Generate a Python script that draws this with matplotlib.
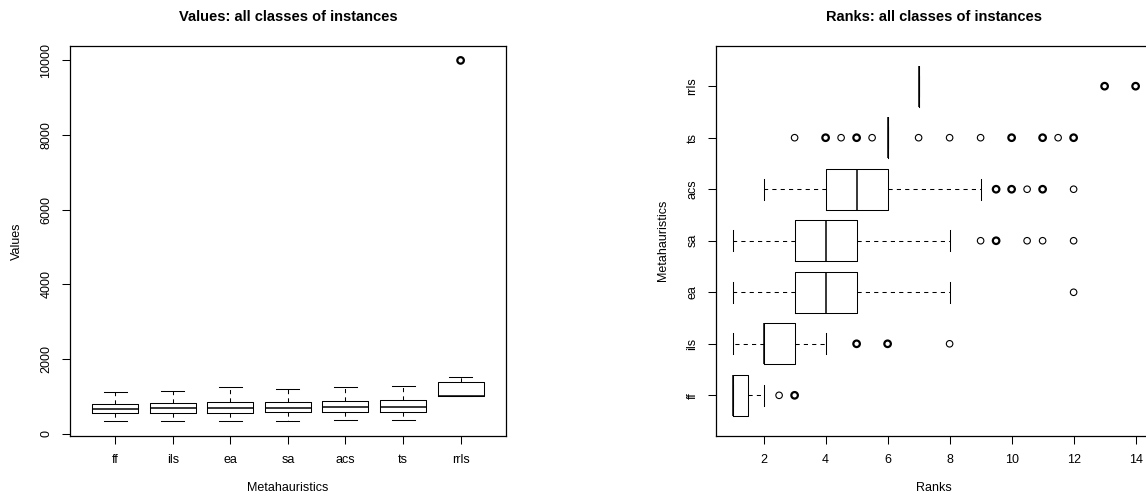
import numpy as np
import matplotlib
matplotlib.use("Agg")
import matplotlib.pyplot as plt

plt.rcParams['font.family'] = ['Liberation Sans', 'DejaVu Sans']

methods = ['ff', 'ils', 'ea', 'sa', 'acs', 'ts', 'rrls']

# objective values per metaheuristic (five-number summaries + outliers)
val_whislo = [340, 340, 340, 340, 358, 367, 1000]
val_q1 = [555, 555, 563, 572, 581, 590, 1000]
val_med = [662, 689, 680, 689, 706, 724, 1000]
val_q3 = [796, 823, 850, 850, 885, 912, 1385]
val_whishi = [1126, 1153, 1251, 1188, 1251, 1278, 1520]
val_fliers = [[], [], [], [], [], [], [10000, 10000]]

# ranks per metaheuristic
rank_whislo = [1, 1, 1, 1, 2, 6, 7]
rank_q1 = [1, 2, 3, 3, 4, 6, 7]
rank_med = [1, 2, 4, 4, 5, 6, 7]
rank_q3 = [1.5, 3, 5, 5, 6, 6, 7]
rank_whishi = [2, 4, 8, 8, 9, 6, 7]
rank_fliers = [
    [2.5, 3, 3],
    [5, 5, 6, 6, 8],
    [12],
    [9, 9.5, 9.5, 10.5, 11, 12],
    [9.5, 9.5, 10, 10, 10.5, 11, 11, 12],
    [3, 4, 4, 4.5, 5, 5, 5.5, 7, 8, 9, 10, 10, 11, 11, 11.5, 12, 12],
    [13, 13, 14, 14],
]

value_ticks = [0, 2000, 4000, 6000, 8000, 10000]
rank_ticks = [2, 4, 6, 8, 10, 12, 14]

LW = 0.75
FS = 9.0
TFS = 10.5


def make_stats(lo, q1, med, q3, hi):
    return [dict(whislo=a, q1=b, med=c, q3=d, whishi=e, fliers=[])
            for a, b, c, d, e in zip(lo, q1, med, q3, hi)]


def draw_box(ax, stats, fliers, vert):
    pos = np.arange(1, len(stats) + 1)
    ax.bxp(stats, positions=pos, widths=0.8, capwidths=0.4,
           orientation='vertical' if vert else 'horizontal',
           showfliers=False, patch_artist=False,
           boxprops=dict(color='k', lw=LW),
           medianprops=dict(color='k', lw=1.1),
           whiskerprops=dict(color='k', lw=LW, linestyle=(0, (4, 4))),
           capprops=dict(color='k', lw=LW))
    # outliers: repeated values drawn with a heavier ring
    for p, fl in zip(pos, fliers):
        if not fl:
            continue
        u, c = np.unique(fl, return_counts=True)
        lws = np.where(c > 1, 1.6, 0.8)
        xs, ys = (np.full(len(u), p), u) if vert else (u, np.full(len(u), p))
        ax.scatter(xs, ys, s=22, facecolors='none', edgecolors='k',
                   linewidths=lws, zorder=3)


def style(ax):
    for s in ax.spines.values():
        s.set_linewidth(0.9)
    ax.tick_params(direction='out', length=5.5, width=LW, pad=7.5,
                   labelsize=FS, colors='k')


fig = plt.figure(figsize=(11.46, 5.0), dpi=100)

# left panel: values
ax1 = fig.add_axes([0.0613, 0.129, 0.3798, 0.779])
draw_box(ax1, make_stats(val_whislo, val_q1, val_med, val_q3, val_whishi),
         val_fliers, vert=True)
ax1.set_xlim(0.22, 7.78)
ax1.set_ylim(-46, 10386)
ax1.set_xticks(range(1, 8), methods)
ax1.set_yticks(value_ticks, [str(v) for v in value_ticks],
               rotation=90, va='center')
style(ax1)
ax1.text(0.5, 1.075, 'Values: all classes of instances', transform=ax1.transAxes,
         ha='center', va='center', fontsize=TFS, fontweight='bold')
ax1.text(0.5, -0.135, 'Metahauristics', transform=ax1.transAxes,
         ha='center', va='center', fontsize=FS)
ax1.text(-0.123, 0.5, 'Values', transform=ax1.transAxes, rotation=90,
         ha='center', va='center', fontsize=FS)

# right panel: ranks
ax2 = fig.add_axes([0.6252, 0.129, 0.3798, 0.779])
draw_box(ax2, make_stats(rank_whislo, rank_q1, rank_med, rank_q3, rank_whishi),
         rank_fliers, vert=False)
ax2.set_xlim(0.48, 14.52)
ax2.set_ylim(0.22, 7.78)
ax2.set_xticks(rank_ticks, [str(v) for v in rank_ticks])
ax2.set_yticks(range(1, 8), methods, rotation=90, va='center')
style(ax2)
ax2.text(0.5, 1.075, 'Ranks: all classes of instances', transform=ax2.transAxes,
         ha='center', va='center', fontsize=TFS, fontweight='bold')
ax2.text(0.5, -0.135, 'Ranks', transform=ax2.transAxes,
         ha='center', va='center', fontsize=FS)
ax2.text(-0.124, 0.5, 'Metahauristics', transform=ax2.transAxes, rotation=90,
         ha='center', va='center', fontsize=FS)

fig.savefig('out.png', dpi=100)
